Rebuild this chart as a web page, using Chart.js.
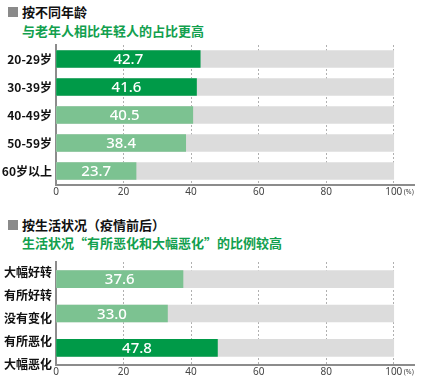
<!DOCTYPE html>
<html>
<head>
<meta charset="utf-8">
<script src="https://cdn.jsdelivr.net/npm/chart.js@4/dist/chart.umd.min.js"></script>
<style>
  html, body { margin: 0; padding: 0; background: #fff; }
  body { width: 432px; height: 388px; position: relative; overflow: hidden;
         font-family: "Noto Sans CJK SC", "Noto Sans", sans-serif; }
  .sq { position: absolute; width: 10px; height: 10px; background: #8a8a8a; }
  .h { position: absolute; font-size: 13px; font-weight: bold; color: #111; line-height: 16px; white-space: nowrap; }
  .s { position: absolute; font-size: 13px; font-weight: bold; color: #12a04e; line-height: 16px; white-space: nowrap; }
  .cv { position: absolute; left: 0; width: 432px; }
</style>
</head>
<body>
<div class="sq" style="left:8px; top:7px;"></div>
<div class="h" style="left:22px; top:4px;">按不同年龄</div>
<div class="s" style="left:22px; top:23px;">与老年人相比年轻人的占比更高</div>
<div class="cv" style="top:40px; height:162px;"><canvas id="c1" width="432" height="162"></canvas></div>

<div class="sq" style="left:8px; top:220px;"></div>
<div class="h" style="left:22px; top:217px;">按生活状况（疫情前后）</div>
<div class="s" style="left:22px; top:235px;">生活状况“有所恶化和大幅恶化”的比例较高</div>
<div class="cv" style="top:255px; height:127px;"><canvas id="c2" width="432" height="127"></canvas></div>

<script>
// ---- data ----
const ageCategories = ["20-29岁", "30-39岁", "40-49岁", "50-59岁", "60岁以上"];
const ageValues = [42.7, 41.6, 40.5, 38.4, 23.7];
const lifeCategories = [["大幅好转", "有所好转"], "没有变化", ["有所恶化", "大幅恶化"]];
const lifeValues = [37.6, 33.0, 47.8];
const fullScale = 100;
const xTicks = [0, 20, 40, 60, 80, 100];
const unitLabel = "(%)";

// ---- styles ----
const DARK = "#009a48";
const LIGHT = "#7cc291";
const GREY = "#dcdcdc";
const AXIS = "#8c8c8c";

const valueLabels = {
  id: "valueLabels",
  afterDatasetsDraw(chart) {
    const ctx = chart.ctx;
    const meta = chart.getDatasetMeta(1);
    const ds = chart.data.datasets[1];
    ctx.save();
    ctx.fillStyle = "#ffffff";
    ctx.font = "500 15px 'Noto Sans', 'Open Sans', sans-serif";
    ctx.textAlign = "center";
    ctx.textBaseline = "middle";
    meta.data.forEach((el, i) => {
      const v = ds.data[i];
      const x = (el.x + el.base) / 2;
      ctx.fillText(v.toFixed(1), x, el.y + 1);
    });
    const xs = chart.scales.x;
    ctx.fillStyle = "#444";
    ctx.font = "7px 'Noto Sans', sans-serif";
    ctx.textAlign = "left";
    ctx.fillText(unitLabel, xs.getPixelForValue(100) + 10, xs.top + 7);
    ctx.restore();
  }
};

function makeChart(id, cats, vals, colors, opts) {
  return new Chart(document.getElementById(id), {
    type: "bar",
    data: {
      labels: cats,
      datasets: [
        { data: cats.map(() => fullScale), backgroundColor: GREY, order: 2,
          grouped: false, barThickness: 17 },
        { data: vals, backgroundColor: colors, order: 1,
          grouped: false, barThickness: 17 }
      ]
    },
    options: {
      indexAxis: "y",
      responsive: false,
      animation: false,
      events: [],
      layout: { padding: { left: 0, right: 18, top: opts.top, bottom: 0 } },
      plugins: { legend: { display: false }, tooltip: { enabled: false } },
      scales: {
        x: {
          min: 0, max: 106,
          afterBuildTicks(scale) { scale.ticks = xTicks.map(v => ({ value: v })); },
          afterFit(scale) { scale.height = 17; scale.paddingLeft = 0; scale.paddingRight = 0; },
          grid: {
            drawTicks: false,
            color: ctx => (ctx.tick && ctx.tick.value === 0) ? "rgba(0,0,0,0)" : "#b0b0b0",
            lineWidth: 1
          },
          border: { display: true, color: AXIS, width: 2, dash: [2, 2] },
          ticks: { padding: 1, color: "#444", font: { size: 10, family: "'Noto Sans', sans-serif" },
                   callback: v => String(v), maxRotation: 0, autoSkip: false }
        },
        y: {
          afterFit(scale) { scale.width = 56; scale.paddingTop = 0; scale.paddingBottom = 0; },
          grid: { display: false, drawTicks: false },
          border: { display: true, color: AXIS, width: 2 },
          ticks: {
            padding: 4,
            autoSkip: false,
            color: "#111",
            labelOffset: opts.labelOffset,
            font: { size: 12, weight: "bold", family: "'Noto Sans CJK SC', sans-serif", lineHeight: opts.lh }
          }
        }
      }
    },
    plugins: [valueLabels]
  });
}

makeChart("c1", ageCategories, ageValues, [DARK, DARK, LIGHT, LIGHT, LIGHT],
  { top: 5, labelOffset: 0, lh: 1.2 });
makeChart("c2", lifeCategories, lifeValues, [LIGHT, LIGHT, DARK],
  { top: 7, labelOffset: 5, lh: 23 / 12 });
</script>
</body>
</html>
